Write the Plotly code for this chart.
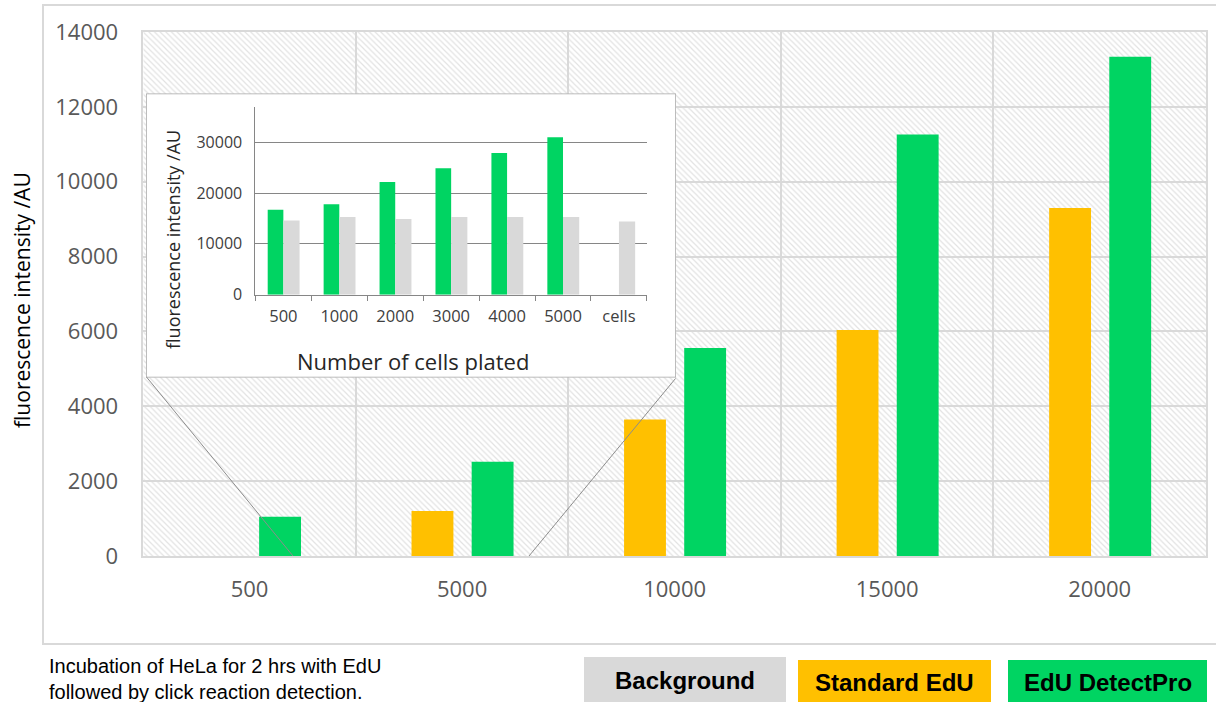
import plotly.graph_objects as go

W, H = 1216, 702

# ---- main chart data -------------------------------------------------------
cells = ["500", "5000", "10000", "15000", "20000"]
standard_edu = [None, 1200, 3650, 6040, 9300]
edu_detectpro = [1050, 2520, 5560, 11260, 13340]

# ---- inset data ------------------------------------------------------------
inset_cells = ["500", "1000", "2000", "3000", "4000", "5000", "cells"]
inset_detectpro = [16700, 17800, 22200, 24900, 27900, 31000, None]
inset_background = [14600, 15300, 14900, 15300, 15300, 15300, 14400]

legend_labels = ["Background", "Standard EdU", "EdU DetectPro"]
footnote = "Incubation of HeLa for 2 hrs with EdU<br>followed by click reaction detection."

GREEN = "#00d462"
ORANGE = "#ffc000"
GREY = "#d9d9d9"
TICK = "#595959"


def px(x):
    return x / W


def py(y):
    return 1 - y / H


# pixel geometry of the panels
MAIN = dict(x0=143.3, x1=1206, y0=32, y1=556)
INSET = dict(x0=255.4, x1=646.9, y0=106.7, y1=294.7)
BOX = dict(x0=146, x1=676, y0=93.5, y1=377.5)

fig = go.Figure()

# hatched plot-area background (own hidden axes, drawn first)
fig.add_trace(go.Bar(
    x=[0.5], y=[1], width=[1], xaxis="x", yaxis="y", showlegend=False,
    hoverinfo="skip",
    marker=dict(color="white", line=dict(width=0),
                pattern=dict(shape="\\", size=4, solidity=0.3,
                             fgcolor="#c6c6c6", bgcolor="white")),
))

# main bars
fig.add_trace(go.Bar(
    x=cells, y=standard_edu, name="Standard EdU", xaxis="x2", yaxis="y2",
    marker=dict(color=ORANGE, line=dict(width=0)), width=0.197, offset=-0.238,
    showlegend=False,
))
fig.add_trace(go.Bar(
    x=cells, y=edu_detectpro, name="EdU DetectPro", xaxis="x2", yaxis="y2",
    marker=dict(color=GREEN, line=dict(width=0)), width=0.197, offset=0.045,
    showlegend=False,
))

# white inset panel
fig.add_trace(go.Bar(
    x=[0.5], y=[1], width=[1], xaxis="x3", yaxis="y3", showlegend=False,
    hoverinfo="skip", cliponaxis=False,
    marker=dict(color="white", line=dict(color="#a6a6a6", width=1.5)),
))

# inset bars
fig.add_trace(go.Bar(
    x=inset_cells, y=inset_detectpro, name="EdU DetectPro", xaxis="x4", yaxis="y4",
    marker=dict(color=GREEN, line=dict(width=0)), width=0.28, offset=-0.28,
    showlegend=False,
))
fig.add_trace(go.Bar(
    x=inset_cells, y=inset_background, name="Background", xaxis="x4", yaxis="y4",
    marker=dict(color=GREY, line=dict(width=0)), width=0.29, offset=0.0,
    showlegend=False,
))

hidden = dict(visible=False, showgrid=False, zeroline=False, fixedrange=True,
              automargin=False)

fig.update_layout(
    width=W, height=H,
    margin=dict(l=0, r=0, t=0, b=0, pad=0, autoexpand=False),
    paper_bgcolor="white", plot_bgcolor="rgba(0,0,0,0)",
    barmode="overlay",
    font=dict(family="Open Sans, sans-serif", color=TICK),
    xaxis=dict(domain=[px(MAIN["x0"]), px(MAIN["x1"])], range=[0, 1], **hidden),
    yaxis=dict(domain=[py(MAIN["y1"]), py(MAIN["y0"])], range=[0, 1], **hidden),
    xaxis2=dict(
        domain=[px(MAIN["x0"]), px(MAIN["x1"])], anchor="y2", automargin=False,
        type="category", categoryorder="array", categoryarray=cells,
        tickson="boundaries", ticks="", showgrid=True,
        gridcolor=GREY, gridwidth=1.5,
        showline=True, mirror=True, linecolor=GREY, linewidth=1.5,
        tickfont=dict(size=22, color=TICK), ticklabelstandoff=13,
    ),
    yaxis2=dict(
        domain=[py(MAIN["y1"]), py(MAIN["y0"])], anchor="x2", automargin=False,
        range=[0, 14000], dtick=2000, tickformat="d",
        showgrid=True, gridcolor=GREY, gridwidth=1.5, zeroline=False,
        showline=True, mirror=True, linecolor=GREY, linewidth=1.5,
        ticks="", tickfont=dict(size=22, color=TICK), ticklabelstandoff=19,
    ),
    xaxis3=dict(domain=[px(BOX["x0"]), px(BOX["x1"])], range=[0, 1], anchor="y3", **hidden),
    yaxis3=dict(domain=[py(BOX["y1"]), py(BOX["y0"])], range=[0, 1], anchor="x3", **hidden),
    xaxis4=dict(
        domain=[px(INSET["x0"]), px(INSET["x1"])], anchor="y4", automargin=False,
        type="category", categoryorder="array", categoryarray=inset_cells,
        tickson="boundaries", ticks="outside", ticklen=5, tickcolor="#868686",
        showgrid=False, showline=True, linecolor="#868686", linewidth=1,
        tickfont=dict(size=16.5, color="#404040"), ticklabelstandoff=6,
    ),
    yaxis4=dict(
        domain=[py(INSET["y1"]), py(INSET["y0"])], anchor="x4", automargin=False,
        range=[0, 37000], tickvals=[0, 10000, 20000, 30000], tickformat="d",
        showgrid=True, gridcolor="#868686", gridwidth=1, zeroline=False,
        showline=True, linecolor="#868686", linewidth=1, ticks="",
        tickfont=dict(size=16, color="#404040"), ticklabelstandoff=9,
    ),
)

shapes = [
    # outer chart frame
    dict(type="rect", xref="paper", yref="paper", layer="below",
         x0=px(43), x1=px(1230), y0=py(644), y1=py(5),
         line=dict(color=GREY, width=2), fillcolor="rgba(0,0,0,0)"),
    # callout lines from the inset to the axis
    dict(type="line", xref="paper", yref="paper", layer="above",
         x0=px(146.5), y0=py(377), x1=px(293), y1=py(556),
         line=dict(color="#8c8c8c", width=1)),
    dict(type="line", xref="paper", yref="paper", layer="above",
         x0=px(675.5), y0=py(378.5), x1=px(529), y1=py(556),
         line=dict(color="#8c8c8c", width=1)),
]

# colour key boxes
key_boxes = [(584, 786, 657, GREY), (798, 991, 660, ORANGE), (1008, 1207, 660, GREEN)]
for (x0, x1, y0, col) in key_boxes:
    shapes.append(dict(type="rect", xref="paper", yref="paper", layer="below",
                       x0=px(x0), x1=px(x1), y0=py(705), y1=py(y0),
                       line=dict(width=0), fillcolor=col))
fig.update_layout(shapes=shapes)

annotations = [
    dict(text="fluorescence intensity /AU", x=px(22), y=py(300), textangle=-90,
         font=dict(size=21, color="#000000")),
    dict(text="fluorescence intensity /AU", x=px(173), y=py(240), textangle=-90,
         font=dict(size=18, color="#262626")),
    dict(text="Number of cells plated", x=px(413), y=py(361),
         font=dict(size=22, color="#262626")),
    dict(text=footnote, x=px(47), y=py(679), xanchor="left", align="left",
         font=dict(family="Liberation Sans, Arial, sans-serif", size=20, color="#000000")),
]
for (x0, x1, y0, col), label in zip(key_boxes, legend_labels):
    annotations.append(dict(
        text="<b>%s</b>" % label, x=px((x0 + x1) / 2), y=py((y0 + 702) / 2 + 1),
        font=dict(family="Liberation Sans, Arial, sans-serif", size=24, color="#000000"),
    ))
for a in annotations:
    a.update(xref="paper", yref="paper", showarrow=False)
    a.setdefault("xanchor", "center")
    a.setdefault("yanchor", "middle")
fig.update_layout(annotations=annotations)

fig.write_html("out.html")
